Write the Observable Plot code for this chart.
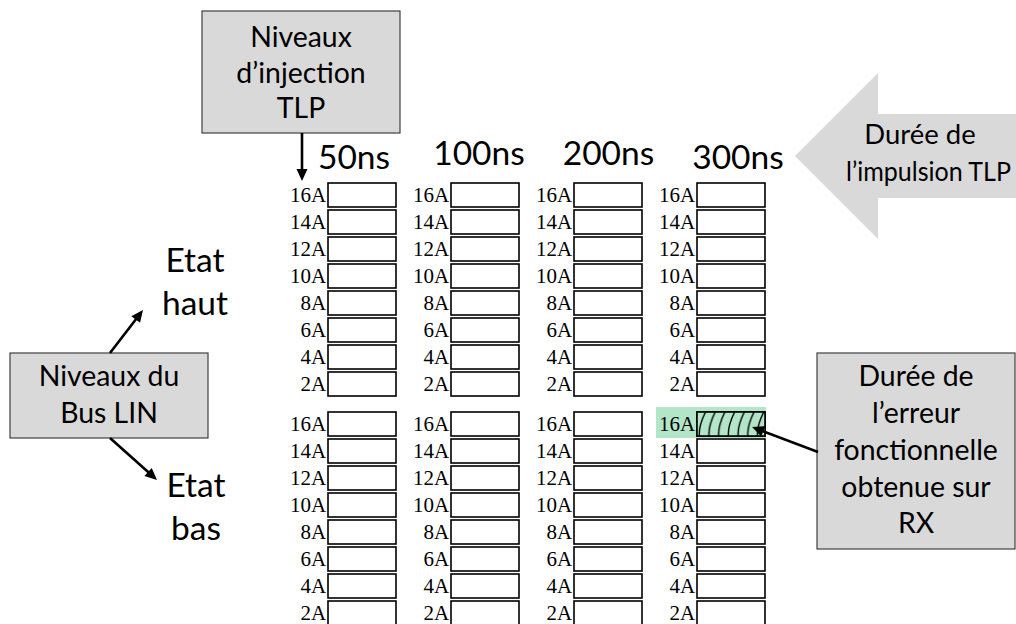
<!DOCTYPE html>
<html><head><meta charset="utf-8">
<script src="https://cdn.jsdelivr.net/npm/d3@7"></script>
<script src="https://cdn.jsdelivr.net/npm/@observablehq/plot@0.6"></script>
<style>html,body{margin:0;padding:0;background:#fff;overflow:hidden}</style>
</head><body><div id="chart"></div>
<script>
// ---- data ----
const durations = ["50ns", "100ns", "200ns", "300ns"];
const levels = ["16A", "14A", "12A", "10A", "8A", "6A", "4A", "2A"];
const states = ["Etat haut", "Etat bas"];
const errors = [{duration: "300ns", state: "Etat bas", level: "16A"}];

const cells = states.flatMap(s => durations.flatMap(d => levels.map(l => ({state: s, duration: d, level: l}))));

// font calibration (Calibri-like widths)
const ctx = document.createElement("canvas").getContext("2d");
ctx.font = "100px Lato";
const k = 537 / ctx.measureText("fonctionnelle").width;
const sans = "Lato, 'Open Sans', sans-serif";
const serif = "'Liberation Serif', 'DejaVu Serif', serif";

const W = 1016, H = 624;
const mL = 327, mR = 249, padX = 0.444;
const bw = (W - mL - mR) / (durations.length - padX) * (1 - padX);

const plot = Plot.plot({
  width: W, height: H,
  marginLeft: mL, marginRight: mR, marginTop: 179, marginBottom: -6,
  style: {background: "white", overflow: "visible"},
  x: {domain: durations, paddingInner: padX, paddingOuter: 0},
  y: {domain: levels, padding: 0.1, axis: null},
  fy: {domain: states, paddingInner: 0.039, paddingOuter: 0, axis: null},
  marks: [
    Plot.axisX({anchor: "top", tickSize: 0, tickPadding: 12, fontSize: 36 * k, fontFamily: sans, fill: "black", label: null}),
    Plot.cell(errors, {x: "duration", y: "level", fy: "state", fill: "#b3e6c9",
      insetLeft: -41, insetRight: -1, insetTop: -5, insetBottom: -2}),
    Plot.cell(cells, {x: "duration", y: "level", fy: "state", fill: "white", stroke: "black", strokeWidth: 1.6}),
    Plot.cell(errors, {x: "duration", y: "level", fy: "state", fill: "url(#hatch)", stroke: "black", strokeWidth: 1.6}),
    Plot.text(cells, {x: "duration", y: "level", fy: "state", text: "level", textAnchor: "end",
      dx: -(bw / 2 + 2), fontFamily: serif, fontSize: 21, fill: "black"})
  ]
});

document.getElementById("chart").appendChild(plot);

const svg = d3.select(plot);

// nudge header labels like the hand-placed originals (layout only)
const nudge = [[-8.5, 0], [-6.5, -4], [0, -4], [6.5, 0]];
svg.selectAll("g[aria-label='x-axis tick label'] text").each(function (d, i) {
  const n = nudge[i % nudge.length];
  const t = this.getAttribute("transform") || "";
  this.setAttribute("transform", t + ` translate(${n[0]},${n[1]})`);
});

// ---- annotations ----
const defs = svg.insert("defs", ":first-child");
const pat = defs.append("pattern").attr("id", "hatch")
  .attr("patternUnits", "objectBoundingBox").attr("x", 0).attr("y", 0)
  .attr("width", 1 / 7).attr("height", 1);
pat.append("rect").attr("x", -2).attr("y", -2).attr("width", 30).attr("height", 40).attr("fill", "#b3e6c9");
pat.append("path").attr("d", "M2.5,25 C1.5,18 4,9 8.5,0")
  .attr("stroke", "black").attr("stroke-width", 1.4).attr("fill", "none");

const g = svg.append("g");
const gray = "#d9d9d9", edge = "#404040";

function box(x, y, w, h) {
  g.append("rect").attr("x", x).attr("y", y).attr("width", w).attr("height", h)
    .attr("fill", gray).attr("stroke", edge).attr("stroke-width", 1.2);
}
function label(lines, cx, baselines, size, len) {
  lines.forEach((t, i) => {
    const el = g.append("text").attr("x", cx).attr("y", baselines[i]).attr("text-anchor", "middle")
      .attr("font-family", sans).attr("font-size", size * k).attr("fill", "black").text(t);
    if (len) el.attr("textLength", len).attr("lengthAdjust", "spacingAndGlyphs");
  });
}
function arrow(x1, y1, x2, y2) {
  const dx = x2 - x1, dy = y2 - y1, L = Math.hypot(dx, dy);
  const ux = dx / L, uy = dy / L, px = -uy, py = ux;
  const hl = 12, hw = 5.5;
  g.append("line").attr("x1", x1).attr("y1", y1)
    .attr("x2", x2 - ux * (hl - 2)).attr("y2", y2 - uy * (hl - 2))
    .attr("stroke", "black").attr("stroke-width", 2.6);
  const bx = x2 - ux * hl, by = y2 - uy * hl;
  g.append("polygon").attr("points",
    `${x2},${y2} ${bx + px * hw},${by + py * hw} ${bx - px * hw},${by - py * hw}`)
    .attr("fill", "black");
}

// top-left box
box(202, 11, 198, 122);
label(["Niveaux", "d\u2019injection", "TLP"], 301, [47, 83, 118], 30.5);
arrow(302, 133, 302, 181);

// block arrow
g.append("polygon").attr("points", "795,156 878,73 878,114 1020,114 1020,198 878,198 878,239")
  .attr("fill", gray);
label(["Durée de"], 920, [144], 29.5);
label(["l\u2019impulsion TLP"], 928.5, [181], 28, 165);

// left box
box(10, 353, 198, 85);
label(["Niveaux du", "Bus LIN"], 109, [386, 423], 30.5);
arrow(110, 353, 143, 310);
arrow(110, 438, 157, 480);
label(["Etat", "haut"], 195, [272, 315], 36);
label(["Etat", "bas"], 196, [497, 540], 36);

// right box
box(817, 353, 198, 196);
label(["Durée de", "l\u2019erreur", "fonctionnelle", "obtenue sur", "RX"], 916, [386, 423, 460, 497, 533], 30.5);
arrow(818, 452, 752, 427);
</script>
</body></html>
